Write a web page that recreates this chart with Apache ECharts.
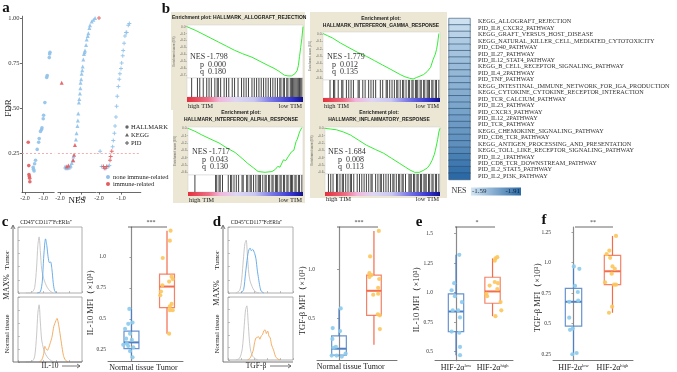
<!DOCTYPE html>
<html>
<head>
<meta charset="utf-8">
<title>TIM / GSEA / MFI figure</title>
<script src="https://cdn.jsdelivr.net/npm/echarts@6.0.0/dist/echarts.min.js"></script>
<style>
  html, body { margin: 0; padding: 0; background: #fff; }
  #fig { width: 677px; height: 372px; }
</style>
</head>
<body>
<div id="fig"></div>
<script>
// ---------- a: NES vs FDR ----------
const fdrTicks = [0.25, 0.5, 0.75, 1.0];
const nesTicks = [-2, -1];
const hallmarkBlue = [[-1.55, 0.17], [-1.53, 0.16], [-1.5, 0.15], [-1.47, 0.19], [-1.42, 0.21], [-1.33, 0.27], [-1.25, 0.31], [-1.22, 0.33],
  [-1.15, 0.37], [-1.09, 0.38], [-1.07, 0.39], [-1.0, 0.44], [-0.98, 0.46], [-0.91, 0.53], [-0.81, 0.67], [-0.78, 0.68], [-0.67, 0.78], [-0.65, 0.8], [-0.63, 0.81]];
const hallmarkRed = [[-1.82, 0.31], [-1.79, 0.18], [-1.78, 0.13], [-1.76, 0.12], [-1.74, 0.11], [-1.73, 0.09]];
const keggBlue = [[-1.76, 0.175], [-1.72, 0.17], [-1.68, 0.165], [-1.62, 0.17], [-1.57, 0.17], [-1.52, 0.175], [-1.49, 0.18], [-1.44, 0.195], [-1.4, 0.21],
  [-1.36, 0.23], [-1.24, 0.325], [-1.21, 0.36], [-1.17, 0.4], [-1.15, 0.43], [-1.13, 0.47], [-1.1, 0.53], [-1.08, 0.55], [-1.05, 0.58], [-1.03, 0.61],
  [-1.02, 0.64], [-0.99, 0.66], [-0.97, 0.69], [-0.94, 0.71], [-0.92, 0.73], [-0.89, 0.77], [-0.86, 0.8], [-0.83, 0.81], [-0.81, 0.82], [-0.76, 0.85],
  [-0.73, 0.88], [-0.68, 0.9], [-0.65, 0.915], [-0.6, 0.945], [-0.57, 0.96], [-0.49, 0.98], [-0.41, 0.99], [-0.33, 1.0]];
const keggRed = [[-1.92, 0.64], [-1.68, 0.175], [-1.6, 0.18], [-1.37, 0.21], [-1.33, 0.24], [-1.29, 0.295]];
const pidBlue = [[-1.95, 0.26], [-1.88, 0.175], [-1.77, 0.165], [-1.68, 0.165], [-1.58, 0.175], [-1.53, 0.18], [-1.38, 0.285], [-1.35, 0.32],
  [-1.3, 0.36], [-1.27, 0.4], [-1.23, 0.45], [-1.2, 0.51], [-1.17, 0.565], [-1.12, 0.62], [-1.08, 0.66], [-1.05, 0.69], [-1.0, 0.72], [-0.97, 0.75],
  [-0.92, 0.79], [-0.9, 0.82], [-0.86, 0.86], [-0.82, 0.9], [-0.77, 0.92], [-0.74, 0.92], [-0.67, 0.96], [-0.62, 0.97]];
const pidRed = [[-2.0, 1.0], [-1.8, 0.175], [-1.73, 0.165], [-1.65, 0.175], [-1.5, 0.21], [-1.47, 0.23], [-1.42, 0.26]];

// ---------- b: running enrichment scores (rank in %, ES) and hit ranks ----------
const esTicks7 = [0, -0.1, -0.2, -0.3, -0.4, -0.5, -0.6, -0.7];
const esTicks6 = [0, -0.1, -0.2, -0.3, -0.4, -0.5, -0.6];
const esAllograft = [[0, 0], [1, -0.01], [7, -0.05], [13, -0.1], [20, -0.16], [27, -0.22], [34, -0.28], [41, -0.34], [48, -0.39], [56, -0.44],
  [63, -0.5], [70, -0.56], [75, -0.6], [79, -0.64], [84, -0.7], [87, -0.71], [90, -0.71], [93, -0.68], [95, -0.63], [96, -0.56], [97, -0.43], [98, -0.3], [99, -0.17], [100, 0]];
const esGamma = [[0, 0.01], [4, -0.02], [8, -0.05], [15, -0.12], [23, -0.19], [30, -0.25], [37, -0.3], [44, -0.36], [51, -0.42], [58, -0.48],
  [66, -0.55], [70, -0.58], [74, -0.6], [77, -0.61], [80, -0.59], [83, -0.57], [86, -0.55], [89, -0.51], [92, -0.45], [94, -0.35], [96, -0.27], [97, -0.21], [98, -0.12], [99, 0.01]];
const esAlpha = [[0, 0], [6, -0.04], [12, -0.09], [20, -0.15], [27, -0.2], [34, -0.27], [41, -0.33], [47, -0.41], [52, -0.48], [57, -0.54],
  [61, -0.59], [67, -0.6], [73, -0.59], [76, -0.56], [78, -0.52], [80, -0.53], [83, -0.43], [85, -0.44], [87, -0.39], [88, -0.37], [90, -0.32],
  [92, -0.3], [94, -0.18], [95, -0.15], [97, -0.05], [99, 0.01]];
const esInflam = [[0, 0], [5, -0.01], [10, -0.02], [16, -0.05], [22, -0.09], [29, -0.16], [36, -0.23], [44, -0.29], [51, -0.34], [58, -0.41],
  [65, -0.48], [70, -0.53], [74, -0.57], [78, -0.6], [82, -0.6], [86, -0.57], [89, -0.54], [91, -0.5], [93, -0.44], [95, -0.36], [96, -0.3], [98, -0.15], [99, -0.05], [100, 0]];
const hitsAllograft = [4, 9, 11, 14, 17, 19, 21, 24, 26, 27, 29, 32, 34, 36, 39, 41, 44, 47, 49, 51, 53, 56, 58, 60, 62, 64, 66, 68, 70, 72, 74, 76,
  78, 80, 81, 83, 84, 86, 87, 89, 90, 91, 92, 93, 94, 95, 96, 97, 98, 99];
const hitsGamma = [6, 9, 10, 13, 16, 17, 20, 22, 24, 26, 30, 31, 34, 36, 39, 41, 43, 45, 49, 51, 54, 55, 57, 59, 61, 63, 64, 66, 68, 69, 71, 73,
  74, 76, 77, 79, 80, 81, 83, 84, 86, 87, 89, 90, 91, 93, 94, 96, 97, 99];
const hitsAlpha = [6, 24, 25, 27, 28, 30, 35, 37, 38, 40, 42, 44, 47, 48, 51, 52, 54, 55, 57, 59, 61, 62, 63, 65, 67, 68, 70, 71, 73, 74, 76, 77,
  78, 80, 81, 83, 84, 86, 87, 89, 90, 91, 93, 94, 96, 97, 99];
const hitsInflam = [3, 5, 7, 10, 11, 13, 15, 16, 18, 20, 22, 23, 25, 28, 30, 32, 34, 36, 38, 40, 41, 44, 46, 48, 49, 51, 53, 55, 57, 59, 60, 62,
  64, 65, 67, 68, 70, 73, 74, 75, 77, 78, 80, 81, 83, 84, 86, 87, 88, 90, 91, 93, 94, 96, 97, 99];
const gseaNES = [-1.798, -1.779, -1.717, -1.684];
const gseaP = [0.000, 0.012, 0.043, 0.008];
const gseaQ = [0.180, 0.135, 0.130, 0.113];

// ---------- heatmap of immune pathways ----------
const pathways = ['KEGG_ALLOGRAFT_REJECTION', 'PID_IL8_CXCR2_PATHWAY', 'KEGG_GRAFT_VERSUS_HOST_DISEASE',
  'KEGG_NATURAL_KILLER_CELL_MEDIATED_CYTOTOXICITY', 'PID_CD40_PATHWAY', 'PID_IL27_PATHWAY', 'PID_IL12_STAT4_PATHWAY',
  'KEGG_B_CELL_RECEPTOR_SIGNALING_PATHWAY', 'PID_IL4_2PATHWAY', 'PID_TNF_PATHWAY', 'KEGG_INTESTINAL_IMMUNE_NETWORK_FOR_IGA_PRODUCTION',
  'KEGG_CYTOKINE_CYTOKINE_RECEPTOR_INTERACTION', 'PID_TCR_CALCIUM_PATHWAY', 'PID_IL23_PATHWAY', 'PID_CXCR3_PATHWAY', 'PID_IL12_2PATHWAY',
  'PID_TCR_PATHWAY', 'KEGG_CHEMOKINE_SIGNALING_PATHWAY', 'PID_CD8_TCR_PATHWAY', 'KEGG_ANTIGEN_PROCESSING_AND_PRESENTATION',
  'KEGG_TOLL_LIKE_RECEPTOR_SIGNALING_PATHWAY', 'PID_IL2_1PATHWAY', 'PID_CD8_TCR_DOWNSTREAM_PATHWAY', 'PID_IL2_STAT5_PATHWAY', 'PID_IL2_PI3K_PATHWAY'];
const pathwayNES = [-1.59, -1.61, -1.63, -1.65, -1.66, -1.67, -1.68, -1.69, -1.7, -1.71, -1.72, -1.73, -1.74, -1.75, -1.76, -1.77, -1.78,
  -1.79, -1.8, -1.81, -1.83, -1.85, -1.87, -1.89, -1.91];

// ---------- c, d: flow histograms (channel %, % of max) ----------
const il10TumorIso = [[12, 0], [22, 1], [26, 8], [29, 38], [31, 72], [33, 85], [35, 62], [37, 36], [40, 22], [43, 14], [46, 8], [50, 3], [55, 0]];
const il10Tumor = [[30, 0], [35, 2], [38, 18], [40, 52], [42, 77], [43, 82], [45, 72], [47, 55], [49, 46], [51, 47], [53, 36], [55, 16], [57, 4], [60, 0]];
const il10NormalIso = [[12, 0], [22, 1], [26, 8], [29, 40], [31, 75], [33, 88], [35, 60], [37, 34], [40, 20], [43, 12], [47, 6], [52, 2], [58, 0]];
const il10Normal = [[33, 0], [37, 3], [40, 12], [42, 24], [44, 20], [46, 18], [48, 22], [50, 28], [53, 38], [56, 55], [59, 63], [61, 67], [63, 60],
  [65, 48], [68, 28], [71, 10], [74, 3], [78, 0]];
const tgfTumorIso = [[12, 0], [18, 4], [21, 20], [24, 55], [26, 75], [28, 80], [30, 55], [32, 30], [34, 18], [37, 10], [40, 4], [44, 1], [48, 0]];
const tgfTumor = [[20, 0], [24, 5], [27, 30], [30, 55], [32, 65], [34, 68], [36, 64], [38, 66], [41, 60], [43, 52], [45, 35], [47, 22], [49, 10], [51, 3], [55, 0]];
const tgfNormalIso = [[12, 0], [18, 3], [22, 18], [25, 55], [27, 80], [29, 86], [31, 60], [33, 30], [35, 14], [38, 6], [42, 2], [46, 0]];
const tgfNormal = [[30, 0], [34, 3], [37, 10], [39, 16], [41, 28], [43, 35], [45, 36], [47, 37], [49, 33], [51, 38], [53, 40], [55, 46], [57, 48],
  [59, 42], [61, 46], [63, 38], [65, 35], [67, 24], [70, 16], [73, 6], [76, 2], [80, 0]];

// ---------- c-f: MFI box plots  [min, Q1, median, Q3, max] ----------
const tissueCats = ['Normal tissue', 'Tumor'];
const hifCats = ['low', 'high'];
const il10TissueBox = [[0.19, 0.26, 0.31, 0.40, 0.58], [0.38, 0.59, 0.76, 0.86, 1.21]];
const il10NormalVals = [0.58, 0.46, 0.47, 0.42, 0.38, 0.34, 0.33, 0.30, 0.29, 0.28, 0.27, 0.24, 0.19];
const il10NormalJit = [-0.06, -0.09, 0.03, -0.18, -0.04, -0.15, 0.01, -0.13, -0.23, -0.09, 0.05, -0.04, 0.03];
const il10TumorVals = [1.21, 1.13, 0.99, 0.84, 0.82, 0.80, 0.77, 0.72, 0.69, 0.62, 0.60, 0.57, 0.57, 0.38];
const il10TumorJit = [0.10, 0.08, -0.12, 0.13, 0.16, 0.06, -0.13, -0.17, -0.19, 0.13, 0.08, 0.16, 0.08, 0.06];
const tgfTissueBox = [[0.11, 0.125, 0.19, 0.32, 0.60], [0.23, 0.53, 0.78, 0.94, 1.39]];
const tgfNormalVals = [0.60, 0.40, 0.37, 0.29, 0.21, 0.20, 0.12, 0.12, 0.11, 0.14];
const tgfNormalJit = [0.05, -0.18, 0.03, -0.19, -0.09, -0.16, -0.21, -0.07, 0.08, 0.19];
const tgfTumorVals = [1.39, 1.13, 0.96, 0.94, 0.92, 0.90, 0.81, 0.75, 0.74, 0.54, 0.53, 0.39];
const tgfTumorJit = [0.14, -0.11, -0.13, -0.07, -0.13, 0.15, 0.12, 0.12, -0.02, 0.11, 0.17, 0.17];
const il10HifBox = [[0.47, 0.67, 0.84, 0.99, 1.32], [0.80, 0.91, 1.01, 1.13, 1.29]];
const il10LowVals = [1.32, 1.08, 1.02, 0.97, 0.92, 0.85, 0.85, 0.79, 0.67, 0.66, 0.54, 0.47];
const il10LowJit = [0.09, -0.05, -0.12, -0.03, 0.16, -0.09, 0.06, 0.11, -0.12, 0.09, 0.11, 0.11];
const il10HighVals = [1.29, 1.30, 1.27, 1.09, 1.08, 1.06, 1.03, 0.99, 0.97, 0.92, 0.85, 0.80];
const il10HighJit = [0.08, 0.13, 0.06, 0.06, 0.15, -0.08, 0.13, -0.17, -0.15, 0.22, 0.24, 0.08];
const tgfHifBox = [[0.25, 0.48, 0.68, 0.79, 0.97], [0.59, 0.82, 0.93, 1.06, 1.22]];
const tgfLowVals = [0.97, 0.95, 0.81, 0.76, 0.68, 0.69, 0.55, 0.46, 0.45, 0.26, 0.25];
const tgfLowJit = [0.01, 0.15, 0.04, 0.11, -0.11, 0.12, -0.11, -0.02, -0.09, 0.08, -0.03];
const tgfHighVals = [1.22, 1.10, 1.07, 1.04, 0.97, 0.95, 0.91, 0.84, 0.82, 0.82, 0.64, 0.59];
const tgfHighJit = [0.09, -0.08, -0.15, -0.06, 0.0, 0.06, -0.02, -0.19, 0.04, 0.09, -0.01, -0.09];
const ticksC = [0.25, 0.5, 0.75, 1.0];
const ticksD = [0.5, 1.0];
const ticksE = [0.5, 0.75, 1.0, 1.25, 1.5];
const ticksF = [0.25, 0.5, 0.75, 1.0, 1.25];

const SERIF = 'Liberation Serif';
const SANS = 'Liberation Sans';
const PLUS = 'path://M3,0h2v3h3v2h-3v3h-2v-3h-3v-2h3z';
const grid = [], xAxis = [], yAxis = [], series = [], graphic = [];

function addGrid(box, xa, ya) {
  const gi = grid.length;
  grid.push(Object.assign({ outerBoundsMode: 'none', containLabel: false }, box));
  xAxis.push(Object.assign({ gridIndex: gi, splitLine: { show: false } }, xa));
  yAxis.push(Object.assign({ gridIndex: gi, splitLine: { show: false } }, ya));
  return gi;
}
function txt(x, y, s, size, style, rot) {
  const el = { type: 'text', x: x, y: y, z: 100, silent: true,
    style: Object.assign({ text: s, fontSize: size, fontFamily: SERIF, fill: '#222', align: 'center', verticalAlign: 'middle' }, style || {}) };
  if (rot) el.rotation = rot;
  graphic.push(el);
}
function seg(x1, y1, x2, y2, color, w) {
  graphic.push({ type: 'line', z: 90, silent: true, shape: { x1: x1, y1: y1, x2: x2, y2: y2 }, style: { stroke: color, lineWidth: w } });
}
function poly(pts, color, w) {
  graphic.push({ type: 'polyline', z: 90, silent: true, shape: { points: pts }, style: { stroke: color, lineWidth: w, fill: null } });
}
const fmtTick = v => (Math.abs(v - Math.round(v)) < 1e-9 ? v.toFixed(1) : String(v));

// panel letters
[['a', 6, 8], ['b', 166, 9], ['c', 5, 222], ['d', 217, 222], ['e', 419, 222], ['f', 544, 220]].forEach(l =>
  txt(l[1], l[2], l[0], 15, { fontWeight: 'bold', fill: '#111' }));

// ---------- a ----------
const segLayout = [
  { pts: [hallmarkBlue, hallmarkRed], sym: 'circle', left: 22, min: -2.16, max: -0.4, ppu: 18.3 },
  { pts: [keggBlue, keggRed], sym: 'triangle', left: 57.9, min: -2.1, max: -0.3, ppu: 21 },
  { pts: [pidBlue, pidRed], sym: PLUS, left: 96.8, min: -2.1, max: -0.1, ppu: 22 }
];
segLayout.forEach((s, k) => {
  const gi = addGrid({ left: s.left, top: 16.2, width: (s.max - s.min) * s.ppu, height: 176.4 },
    { type: 'value', min: s.min, max: s.max,
      axisLine: { show: true, lineStyle: { color: '#444', width: 0.8 } },
      axisTick: { show: true, customValues: nesTicks, length: 2, lineStyle: { color: '#444', width: 0.8 } },
      axisLabel: { customValues: nesTicks, formatter: v => v.toFixed(1), fontSize: 6, color: '#333', margin: 2.5, fontFamily: SERIF } },
    { type: 'value', min: 0.03, max: 1.01, show: k === 0,
      axisLine: { show: true, lineStyle: { color: '#444', width: 0.8 } },
      axisTick: { show: true, customValues: fdrTicks, length: 2, lineStyle: { color: '#444', width: 0.8 } },
      axisLabel: { customValues: fdrTicks, formatter: v => v.toFixed(2), fontSize: 6.5, color: '#333', margin: 2.5, fontFamily: SERIF } });
  ['#8fc1ea', '#e25b5e'].forEach((c, j) => {
    const sr = { type: 'scatter', xAxisIndex: gi, yAxisIndex: gi, data: s.pts[j], symbol: s.sym,
      symbolSize: s.sym === 'circle' ? 3.6 : 4, itemStyle: { color: c, opacity: 0.9 }, z: 3 + j };
    if (j === 0) sr.markLine = { silent: true, symbol: 'none', label: { show: false },
      lineStyle: { color: '#ef9a9a', type: [2, 2], width: 0.8 }, data: [{ yAxis: 0.25 }] };
    series.push(sr);
  });
});
txt(9, 108, 'FDR', 9, {}, Math.PI / 2);
txt(77, 201, 'NES', 9);
graphic.push({ type: 'circle', z: 90, shape: { cx: 127, cy: 127, r: 1.7 }, style: { fill: '#666' } });
graphic.push({ type: 'polygon', z: 90, shape: { points: [[127, 133], [129, 136.5], [125, 136.5]] }, style: { fill: '#666' } });
poly([[125, 143], [129, 143]], '#666', 1.1); poly([[127, 141], [127, 145]], '#666', 1.1);
[['HALLMARK', 127], ['KEGG', 135], ['PID', 143]].forEach(t => txt(131, t[1], t[0], 6.5, { align: 'left' }));
graphic.push({ type: 'circle', z: 90, shape: { cx: 108, cy: 177, r: 2 }, style: { fill: '#8fc1ea' } });
graphic.push({ type: 'circle', z: 90, shape: { cx: 108, cy: 184, r: 2 }, style: { fill: '#e25b5e' } });
txt(113, 177, 'none immune-related', 6.5, { align: 'left' });
txt(113, 184, 'immune-related', 6.5, { align: 'left' });

// ---------- b ----------
const tiColors = [{ offset: 0, color: '#e3313d' }, { offset: 0.18, color: '#ec6f86' }, { offset: 0.28, color: '#f1b6dc' },
  { offset: 0.42, color: '#ded7f3' }, { offset: 0.58, color: '#c9c7f1' }, { offset: 0.72, color: '#7e7ce6' },
  { offset: 0.9, color: '#3434cf' }, { offset: 1, color: '#13138e' }];
const gseaPanels = [
  { es: esAllograft, hits: hitsAllograft, ticks: esTicks7, bg: [171, 12, 134, 98], title: ['Enrichment plot: HALLMARK_ALLOGRAFT_REJECTION'],
    tx: 172, ty: [18], talign: 'left', left: 187, top: 25, width: 116, height: 53, barH: 19, cbH: 5, labY: 106, ymin: -0.74, ymax: 0.025, sx: [190, 200], sy: 57 },
  { es: esGamma, hits: hitsGamma, ticks: esTicks6, bg: [310, 12, 137, 98], title: ['Enrichment plot:', 'HALLMARK_INTERFERON_GAMMA_RESPONSE'],
    tx: 381, ty: [19, 26], talign: 'center', left: 323, top: 32, width: 117, height: 48, barH: 18, cbH: 4, labY: 106, ymin: -0.624, ymax: 0.031, sx: [327, 332], sy: 57 },
  { es: esAlpha, hits: hitsAlpha, ticks: esTicks6, bg: [173, 109, 132, 94], title: ['Enrichment plot:', 'HALLMARK_INTERFERON_ALPHA_RESPONSE'],
    tx: 241, ty: [113, 120], talign: 'center', left: 188, top: 127, width: 115, height: 48, barH: 17, cbH: 4, labY: 200, ymin: -0.637, ymax: 0.018, sx: [192, 202], sy: 152 },
  { es: esInflam, hits: hitsInflam, ticks: esTicks6, bg: [310, 109, 137, 89], title: ['Enrichment plot:', 'HALLMARK_INFLAMMATORY_RESPONSE'],
    tx: 379, ty: [113, 120], talign: 'center', left: 325, top: 127, width: 115, height: 47, barH: 18, cbH: 4, labY: 199, ymin: -0.623, ymax: 0.018, sx: [328, 338], sy: 152 }
];
gseaPanels.forEach((p, k) => {
  graphic.push({ type: 'rect', z: -10, silent: true, shape: { x: p.bg[0], y: p.bg[1], width: p.bg[2], height: p.bg[3] }, style: { fill: '#ebe7d4' } });
  p.title.forEach((t, i) => txt(p.tx, p.ty[i], t, 5, { fontFamily: SANS, fontWeight: 'bold', align: p.talign, fill: '#222' }));
  const gc = addGrid({ left: p.left, top: p.top, width: p.width, height: p.height, show: true, backgroundColor: '#fff', borderColor: '#cfcfcf', borderWidth: 0.5 },
    { type: 'value', min: 0, max: 100, show: false },
    { type: 'value', min: p.ymin, max: p.ymax, axisLine: { show: false },
      axisTick: { show: true, customValues: p.ticks, length: 1.5, lineStyle: { color: '#999', width: 0.5 } },
      axisLabel: { customValues: p.ticks, formatter: v => v.toFixed(1), fontSize: 3.2, color: '#666', margin: 1.5, fontFamily: SANS },
      name: 'Enrichment score (ES)', nameLocation: 'middle', nameGap: 8, nameTextStyle: { fontSize: 3, color: '#666', fontFamily: SANS } });
  series.push({ type: 'line', xAxisIndex: gc, yAxisIndex: gc, data: p.es, showSymbol: false, lineStyle: { color: '#35ee35', width: 1 }, z: 3 });
  const gb = addGrid({ left: p.left, top: p.top + p.height, width: p.width, height: p.barH, show: true, backgroundColor: '#fff', borderColor: '#cfcfcf', borderWidth: 0.5 },
    { type: 'value', min: 0, max: 100, show: false }, { type: 'value', min: 0, max: 1, show: false });
  series.push({ type: 'scatter', xAxisIndex: gb, yAxisIndex: gb, data: p.hits.map(h => [h, 0.5]), symbol: 'rect', symbolSize: [1, p.barH],
    itemStyle: { color: '#151515' }, z: 3 });
  graphic.push({ type: 'rect', z: 5, silent: true, shape: { x: p.left, y: p.top + p.height + p.barH, width: p.width, height: p.cbH },
    style: { fill: { type: 'linear', x: 0, y: 0, x2: 1, y2: 0, colorStops: tiColors } } });
  txt(p.left + 1, p.labY, 'high TIM', 6.5, { align: 'left' });
  txt(p.left + p.width - 1, p.labY, 'low TIM', 6.5, { align: 'right' });
  txt(p.sx[0], p.sy, 'NES ' + gseaNES[k].toFixed(3), 8, { align: 'left', fill: '#333' });
  txt(p.sx[1], p.sy + 7.5, 'p  ' + gseaP[k].toFixed(3), 8, { align: 'left', fill: '#333' });
  txt(p.sx[1], p.sy + 15, 'q  ' + gseaQ[k].toFixed(3), 8, { align: 'left', fill: '#333' });
});

// ---------- heatmap ----------
const hm = addGrid({ left: 449, top: 18.5, width: 21, height: 161 },
  { type: 'category', data: ['NES'], show: false },
  { type: 'category', data: pathways, inverse: true, position: 'right', axisLine: { show: false }, axisTick: { show: false },
    axisLabel: { interval: 0, fontSize: 6.2, fontFamily: SERIF, color: '#333', margin: 8 } });
const hmIndex = series.length;
series.push({ type: 'heatmap', xAxisIndex: hm, yAxisIndex: hm, data: pathways.map((p, i) => [0, i, pathwayNES[i]]),
  itemStyle: { borderColor: '#2e4d6b', borderWidth: 0.6 } });
txt(459, 191, 'NES', 8, { fill: '#333' });
graphic.push({ type: 'rect', z: 5, silent: true, shape: { x: 471, y: 187.5, width: 50, height: 8 },
  style: { fill: { type: 'linear', x: 0, y: 0, x2: 1, y2: 0, colorStops: [{ offset: 0, color: '#d3e5f3' }, { offset: 1, color: '#2b6aa6' }] } } });
txt(472, 191.5, pathwayNES[0].toFixed(2), 7, { align: 'left', fill: '#234' });
txt(520, 191.5, pathwayNES[pathwayNES.length - 1].toFixed(2), 7, { align: 'right', fill: '#123' });

// ---------- c, d: flow panels ----------
function flowPanel(p) {
  p.boxes.forEach(b => {
    const gi = addGrid({ left: p.left, top: b.top, width: p.width, height: b.height, show: true, borderColor: '#9a9a9a', borderWidth: 0.8 },
      { type: 'value', min: 0, max: 100, interval: 20, axisLine: { show: false }, axisLabel: { show: false },
        axisTick: { show: true, inside: true, length: 2, lineStyle: { color: '#999', width: 0.6 } } },
      { type: 'value', min: 0, max: 100, interval: 20, axisLine: { show: false }, axisLabel: { show: false },
        axisTick: { show: true, inside: true, length: 2, lineStyle: { color: '#999', width: 0.6 } } });
    b.lines.forEach((l, j) => series.push({ type: 'line', xAxisIndex: gi, yAxisIndex: gi, data: l[0], showSymbol: false, smooth: 0.25,
      lineStyle: { color: l[1], width: 0.9 }, z: 3 + j }));
  });
  seg(p.ax, 362, p.ax, 226, '#555', 0.8);
  poly([[p.ax - 2, 229], [p.ax, 225], [p.ax + 2, 229]], '#555', 0.8);
  seg(p.ax, 362, p.left + p.width, 362, '#555', 0.8);
  seg(p.arrow[0], 366, p.arrow[1], 366, '#555', 0.8);
  poly([[p.arrow[1] - 3, 364], [p.arrow[1], 366], [p.arrow[1] - 3, 368]], '#555', 0.8);
  txt(p.xlab[0], 366, p.xlab[1], 7.5);
  txt(p.left + p.width / 2 - 4, 223, 'CD45⁺CD117⁺FcERIa⁺', 5.5);
  txt(p.ax - 6, 260, 'Tumor', 7, {}, Math.PI / 2);
  txt(p.ax - 6, p.maxY, 'MAX%', 8, {}, Math.PI / 2);
  txt(p.ax - 6, 334, 'Normal tissue', 7, {}, Math.PI / 2);
}
flowPanel({ left: 18, width: 64, ax: 13, maxY: 287, arrow: [62, 80], xlab: [50, 'IL-10'],
  boxes: [{ top: 227, height: 66, lines: [[il10TumorIso, '#c2c2c2'], [il10Tumor, '#5aa5e6']] },
          { top: 297, height: 65, lines: [[il10NormalIso, '#c2c2c2'], [il10Normal, '#f2a553']] }] });
flowPanel({ left: 228, width: 65, ax: 223, maxY: 293, arrow: [270, 291], xlab: [256, 'TGF-β'],
  boxes: [{ top: 227, height: 66, lines: [[tgfTumorIso, '#c2c2c2'], [tgfTumor, '#5aa5e6']] },
          { top: 297, height: 63, lines: [[tgfNormalIso, '#c2c2c2'], [tgfNormal, '#f2a553']] }] });

// ---------- c-f: box plots ----------
const boxStroke = ['#4f80c6', '#f36c4c'];
const dotFill = ['#8ccbec', '#fcc75c'];
function boxItem(params, api) {
  const i = api.value(0);
  const c = boxStroke[i];
  const pt = k => api.coord([i, api.value(k)]);
  const lo = pt(1), q1 = pt(2), md = pt(3), q3 = pt(4), hi = pt(5);
  const w = api.size([0.42, 0])[0];
  const x0 = lo[0] - w / 2;
  return { type: 'group', children: [
    { type: 'line', shape: { x1: lo[0], y1: lo[1], x2: q1[0], y2: q1[1] }, style: { stroke: c, lineWidth: 1.2 } },
    { type: 'line', shape: { x1: q3[0], y1: q3[1], x2: hi[0], y2: hi[1] }, style: { stroke: c, lineWidth: 1.2 } },
    { type: 'rect', shape: { x: x0, y: q3[1], width: w, height: q1[1] - q3[1] }, style: { fill: 'rgba(255,255,255,0)', stroke: c, lineWidth: 1.2, opacity: 0.85 } },
    { type: 'line', shape: { x1: x0, y1: md[1], x2: x0 + w, y2: md[1] }, style: { stroke: c, lineWidth: 2 } }
  ] };
}
function boxPanel(p) {
  const hif = p.cats === hifCats;
  const gi = addGrid({ left: p.left, top: 227, width: p.width, height: p.height },
    { type: 'value', min: p.xmin, max: p.xmax,
      axisLine: { show: true, lineStyle: { color: '#777', width: 1 } }, axisTick: { show: false },
      axisLabel: { customValues: [0, 1], margin: 3, color: '#222', fontSize: 8, fontFamily: SERIF,
        formatter: v => hif ? '{a|HIF-2α}{b|' + p.cats[v] + '}' : p.cats[v],
        rich: { a: { fontSize: 8, fontFamily: SERIF, color: '#222' }, b: { fontSize: 4.5, fontFamily: SERIF, color: '#222', verticalAlign: 'top' } } } },
    { type: 'value', min: p.ymin, max: p.ymax,
      axisLine: { show: true, lineStyle: { color: '#8a8a8a', width: 1.2 } },
      axisTick: { show: true, customValues: p.ticks, length: 2, lineStyle: { color: '#8a8a8a', width: 0.8 } },
      axisLabel: { customValues: p.ticks, formatter: fmtTick, fontSize: 5.5, color: '#333', margin: 2, fontFamily: SERIF } });
  series.push({ type: 'custom', xAxisIndex: gi, yAxisIndex: gi, renderItem: boxItem, data: p.boxes.map((b, i) => [i].concat(b)),
    encode: { x: 0, y: [1, 2, 3, 4, 5] }, z: 2, silent: true });
  p.vals.forEach((vals, i) => series.push({ type: 'scatter', xAxisIndex: gi, yAxisIndex: gi, symbolSize: 4.2,
    data: vals.map((v, k) => [i + p.jit[i][k], v]), itemStyle: { color: dotFill[i], opacity: 0.9 }, z: 4 }));
  txt(p.nameAt[0], p.nameAt[1], p.yName, 8.5, {}, Math.PI / 2);
  seg(p.sig[0], 227, p.sig[1], 227, '#444', 0.8);
  txt(p.sig[2], 222.5, p.sig[3], 6, { fill: '#333' });
}
boxPanel({ boxes: il10TissueBox, vals: [il10NormalVals, il10TumorVals], jit: [il10NormalJit, il10TumorJit], cats: tissueCats, ticks: ticksC,
  left: 108, width: 75, height: 134, xmin: -0.66, xmax: 1.45, ymin: 0.16, ymax: 1.24, yName: 'IL-10 MFI（×10³）', nameAt: [91, 300], sig: [128, 167, 151, '***'] });
boxPanel({ boxes: tgfTissueBox, vals: [tgfNormalVals, tgfTumorVals], jit: [tgfNormalJit, tgfTumorJit], cats: tissueCats, ticks: ticksD,
  left: 317, width: 80, height: 133, xmin: -0.63, xmax: 1.66, ymin: 0.075, ymax: 1.43, yName: 'TGF-β MFI（×10³）', nameAt: [303, 298], sig: [337, 378, 359, '***'] });
boxPanel({ boxes: il10HifBox, vals: [il10LowVals, il10HighVals], jit: [il10LowJit, il10HighJit], cats: hifCats, ticks: ticksE,
  left: 435, width: 78, height: 133.7, xmin: -0.575, xmax: 1.56, ymin: 0.423, ymax: 1.556, yName: 'IL-10 MFI（×10³）', nameAt: [417, 297], sig: [455, 495, 477, '*'] });
boxPanel({ boxes: tgfHifBox, vals: [tgfLowVals, tgfHighVals], jit: [tgfLowJit, tgfHighJit], cats: hifCats, ticks: ticksF,
  left: 553, width: 80, height: 133.7, xmin: -0.526, xmax: 1.526, ymin: 0.197, ymax: 1.293, yName: 'TGF-β MFI（×10³）', nameAt: [538, 295], sig: [575, 613, 593, '**'] });

const chart = echarts.init(document.getElementById('fig'), null, { renderer: 'canvas' });
chart.setOption({
  animation: false,
  backgroundColor: '#fff',
  textStyle: { fontFamily: SERIF },
  grid: grid, xAxis: xAxis, yAxis: yAxis,
  visualMap: [{ type: 'continuous', show: false, seriesIndex: hmIndex, dimension: 2, min: -1.91, max: -1.59,
    inRange: { color: ['#2b6aa6', '#cde1f1'] } }],
  series: series,
  graphic: graphic
});
</script>
</body>
</html>
